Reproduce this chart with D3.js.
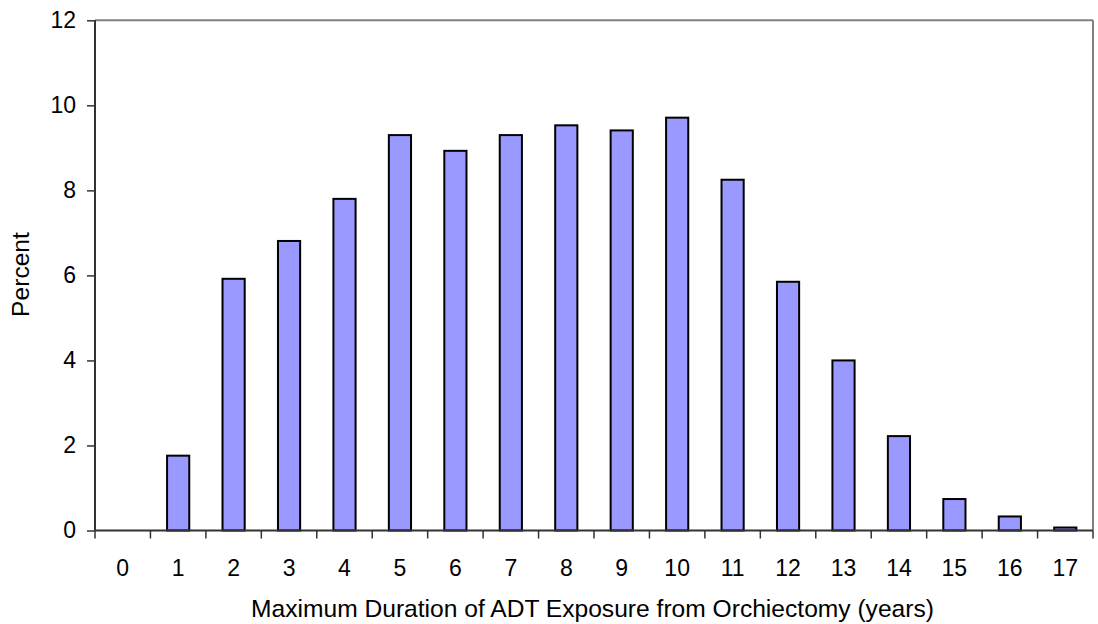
<!DOCTYPE html>
<html>
<head>
<meta charset="utf-8">
<script src="https://cdn.jsdelivr.net/npm/d3@7"></script>
<style>
  html, body { margin: 0; padding: 0; background: #fff; }
  svg { display: block; font-family: "Liberation Sans", Arial, sans-serif; }
</style>
</head>
<body>
<svg id="chart" width="1098" height="624"></svg>
<script>
// Years since orchiectomy and share of patients (percent)
const years = ["0","1","2","3","4","5","6","7","8","9","10","11","12","13","14","15","16","17"];
const percents = [0, 1.76, 5.92, 6.81, 7.80, 9.30, 8.93, 9.30, 9.53, 9.41, 9.71, 8.25, 5.85, 4.00, 2.22, 0.74, 0.33, 0.07];
const yTicks = [0, 2, 4, 6, 8, 10, 12];

const svg = d3.select("#chart");
const plotLeft = 95, plotRight = 1093, plotTop = 20.3, plotBottom = 530.5;

const x = d3.scaleBand().domain(years).range([plotLeft, plotRight])
  .paddingInner(0.6).paddingOuter(0.3);
const xTicks = d3.scaleBand().domain(years).range([plotLeft, plotRight]);
const y = d3.scaleLinear().domain([0, 12]).range([plotBottom, plotTop]);

// plot frame: top and right edges in gray
svg.append("line").attr("x1", plotLeft).attr("x2", plotRight).attr("y1", plotTop).attr("y2", plotTop)
  .attr("stroke", "#808080").attr("stroke-width", 2);
svg.append("line").attr("x1", plotRight).attr("x2", plotRight).attr("y1", plotTop).attr("y2", plotBottom)
  .attr("stroke", "#808080").attr("stroke-width", 2);

// bars
svg.append("g").selectAll("rect")
  .data(years.map((k, i) => ({ k, v: percents[i] })).filter(d => d.v > 0))
  .join("rect")
  .attr("x", d => x(d.k))
  .attr("width", x.bandwidth())
  .attr("y", d => y(d.v))
  .attr("height", d => y(0) - y(d.v))
  .attr("fill", "#9999FF")
  .attr("stroke", "#000")
  .attr("stroke-width", 2);

// y axis
const yAxis = svg.append("g").attr("transform", `translate(${plotLeft},0)`)
  .call(d3.axisLeft(y).tickValues(yTicks).tickSize(8).tickPadding(11).tickFormat(d3.format("d")));
yAxis.select(".domain").attr("stroke", "#333").attr("stroke-width", 2)
  .attr("d", `M0,${plotTop}V${plotBottom}`);
yAxis.selectAll(".tick line").attr("stroke", "#333").attr("stroke-width", 1.5);
yAxis.selectAll(".tick text").attr("font-size", 23).attr("fill", "#000")
  .attr("font-family", "Liberation Sans, Arial, sans-serif");

// x axis with ticks on band boundaries
const xAxisG = svg.append("g").attr("transform", `translate(0,${plotBottom})`);
xAxisG.append("line").attr("x1", plotLeft).attr("x2", plotRight).attr("stroke", "#333").attr("stroke-width", 2);
xAxisG.selectAll("line.tk").data(years.concat(["end"])).join("line")
  .attr("class", "tk")
  .attr("x1", (d, i) => plotLeft + i * xTicks.step())
  .attr("x2", (d, i) => plotLeft + i * xTicks.step())
  .attr("y1", 0).attr("y2", 8)
  .attr("stroke", "#333").attr("stroke-width", 1.5);
xAxisG.selectAll("text").data(years).join("text")
  .attr("x", d => xTicks(d) + xTicks.bandwidth() / 2)
  .attr("y", 45.2)
  .attr("text-anchor", "middle")
  .attr("font-size", 23)
  .attr("fill", "#000")
  .text(d => d);

// axis titles
svg.append("text")
  .attr("x", 592.5)
  .attr("y", 616.7)
  .attr("text-anchor", "middle")
  .attr("font-size", 24.6)
  .attr("fill", "#000")
  .text("Maximum Duration of ADT Exposure from Orchiectomy (years)");

svg.append("text")
  .attr("transform", `translate(29.3,274.5) rotate(-90)`)
  .attr("text-anchor", "middle")
  .attr("font-size", 24.6)
  .attr("fill", "#000")
  .text("Percent");
</script>
</body>
</html>
